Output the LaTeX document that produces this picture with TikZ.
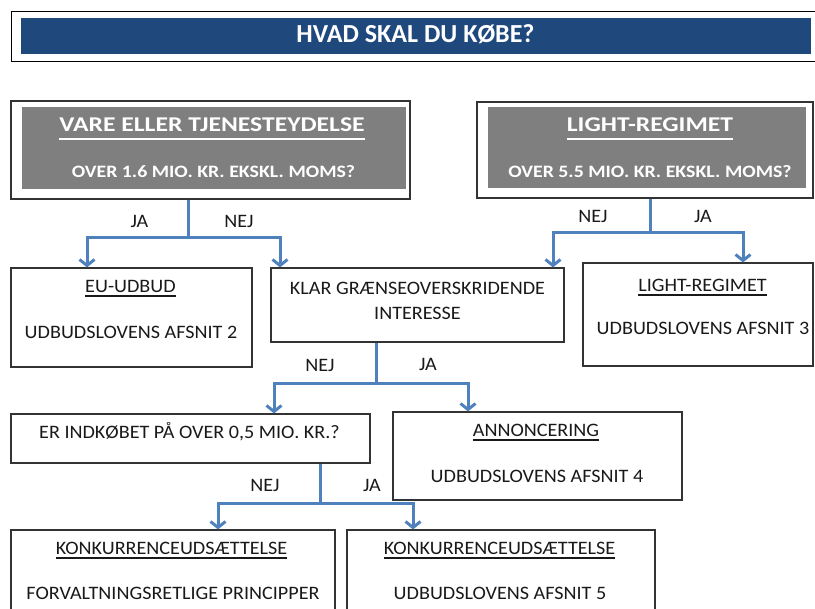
\documentclass[tikz,border=0pt]{standalone}
\usepackage{fontspec}
\setmainfont{Carlito}
\newfontfamily\hdrfont[FakeStretch=1.22]{Carlito}
\newfontfamily\subfont[FakeStretch=1.14]{Carlito}
\newfontfamily\bodyfont[FakeStretch=1.06]{Carlito}
\usetikzlibrary{fit,arrows.meta}
\definecolor{hdrblue}{HTML}{1F497D}
\definecolor{hdrgray}{HTML}{7F7F7F}
\definecolor{lnblue}{HTML}{4F81BD}
\definecolor{boxln}{HTML}{333333}
\newcommand{\hul}[1]{\setbox0\hbox{#1}\rlap{\rule[-8pt]{\wd0}{1.8pt}}\box0}
\newcommand{\bul}[1]{\setbox0\hbox{#1}\rlap{\rule[-3.6pt]{\wd0}{1.2pt}}\box0}
\tikzset{
  box/.style={draw=boxln, line width=1.1pt, inner sep=0pt},
  fillbox/.style={inner sep=0pt},
  txt/.style={inner sep=0pt, anchor=base, text=black!90, font=\bodyfont\fontsize{19}{21}\selectfont},
  hdr/.style={inner sep=0pt, anchor=base, text=white, font=\hdrfont\bfseries\fontsize{21}{23}\selectfont},
  hdrsub/.style={inner sep=0pt, anchor=base, text=white, font=\subfont\bfseries\fontsize{17.4}{19}\selectfont},
  lbl/.style={inner sep=0pt, anchor=base, text=black!90, font=\bodyfont\fontsize{19}{21}\selectfont},
  conn/.style={draw=lnblue, line width=3pt},
  arr/.style={draw=lnblue, line width=3pt, -{Straight Barb[length=6pt,width=15pt,line width=3pt]}},
}
\begin{document}
\begin{tikzpicture}[x=1pt,y=-1pt]
\useasboundingbox (0,0) rectangle (815,609);
\clip (0,0) rectangle (815,609);
% title
\node[box, draw=black, line width=1pt, fit={(11,12) (830,62)}] (tbox) {};
\node[fillbox, fill=hdrblue, fit={(21,18) (811,54)}] (tfill) {};
\node[inner sep=0pt, anchor=base, text=white, font=\bfseries\fontsize{26}{28}\selectfont] (ttxt) at (415.5,43) {HVAD SKAL DU KØBE?};
% top boxes
\node[box, fit={(11,101) (410,199)}] (vare) {};
\node[fillbox, fill=hdrgray, fit={(22,107) (406,189)}] (varef) {};
\node[hdr] (varet1) at (212,132) {\hul{VARE ELLER TJENESTEYDELSE}};
\node[hdrsub] (varet2) at (213.5,178) {OVER 1.6 MIO. KR. EKSKL. MOMS?};
\node[box, fit={(477,102) (813,198)}] (light) {};
\node[fillbox, fill=hdrgray, fit={(488,107) (806,188)}] (lightf) {};
\node[hdr] (lightt1) at (650,132) {\hul{LIGHT-REGIMET}};
\node[hdrsub] (lightt2) at (650,178) {OVER 5.5 MIO. KR. EKSKL. MOMS?};
% second row
\node[box, fit={(11,268) (252,367)}] (eu) {};
\node[txt] (eut1) at (130.5,293) {\bul{EU-UDBUD}};
\node[txt] (eut2) at (131,338.5) {UDBUDSLOVENS AFSNIT 2};
\node[box, fit={(271,268) (564,342)}] (klar) {};
\node[txt] (klart1) at (417.5,295) {KLAR GRÆNSEOVERSKRIDENDE};
\node[txt] (klart2) at (417.5,320) {INTERESSE};
\node[box, fit={(583,263) (813,366)}] (lres) {};
\node[txt] (lrest1) at (702.5,292) {\bul{LIGHT-REGIMET}};
\node[txt] (lrest2) at (703,335) {UDBUDSLOVENS AFSNIT 3};
% third row
\node[box, fit={(11,414) (370,463)}] (er) {};
\node[txt] (ert1) at (189.5,439) {ER INDKØBET PÅ OVER 0,5 MIO. KR.?};
\node[box, fit={(393,412) (682,500)}] (ann) {};
\node[txt] (annt1) at (536,437) {\bul{ANNONCERING}};
\node[txt] (annt2) at (537,482.5) {UDBUDSLOVENS AFSNIT 4};
% bottom row
\node[box, fit={(11,530) (335,625)}] (k1) {};
\node[txt] (k1t1) at (171.5,555) {\bul{KONKURRENCEUDSÆTTELSE}};
\node[txt] (k1t2) at (173,600) {FORVALTNINGSRETLIGE PRINCIPPER};
\node[box, fit={(347,530) (655,625)}] (k2) {};
\node[txt] (k2t1) at (499.5,555) {\bul{KONKURRENCEUDSÆTTELSE}};
\node[txt] (k2t2) at (500,600) {UDBUDSLOVENS AFSNIT 5};
% connectors
\coordinate (j1) at (188,238);
\coordinate (j2) at (650,233);
\coordinate (j3) at (376,384);
\coordinate (j4) at (320,504);
\draw[conn] (j1 |- vare.south) -- (j1);
\draw[arr] (j1) -| ([xshift=-44.5pt]eu.north);
\draw[arr] (j1) -| ([xshift=-137.5pt]klar.north);
\draw[conn] (j2 |- light.south) -- (j2);
\draw[arr] (j2) -| ([xshift=135.5pt]klar.north);
\draw[arr] (j2) -| ([xshift=45pt]lres.north);
\draw[conn] (j3 |- klar.south) -- (j3);
\draw[arr] (j3) -| ([xshift=83.5pt]er.north);
\draw[arr] (j3) -| ([xshift=-69.5pt]ann.north);
\draw[conn] (j4 |- er.south) -- (j4);
\draw[arr] (j4) -| ([xshift=45pt]k1.north);
\draw[arr] (j4) -| ([xshift=-88pt]k2.north);
% labels
\node[lbl] (l1) at (139.5,228) {JA};
\node[lbl] (l2) at (239,228) {NEJ};
\node[lbl] (l3) at (593,223) {NEJ};
\node[lbl] (l4) at (703,223) {JA};
\node[lbl] (l5) at (320,372) {NEJ};
\node[lbl] (l6) at (428,371) {JA};
\node[lbl] (l7) at (265,492) {NEJ};
\node[lbl] (l8) at (372,492) {JA};
\end{tikzpicture}
\end{document}
